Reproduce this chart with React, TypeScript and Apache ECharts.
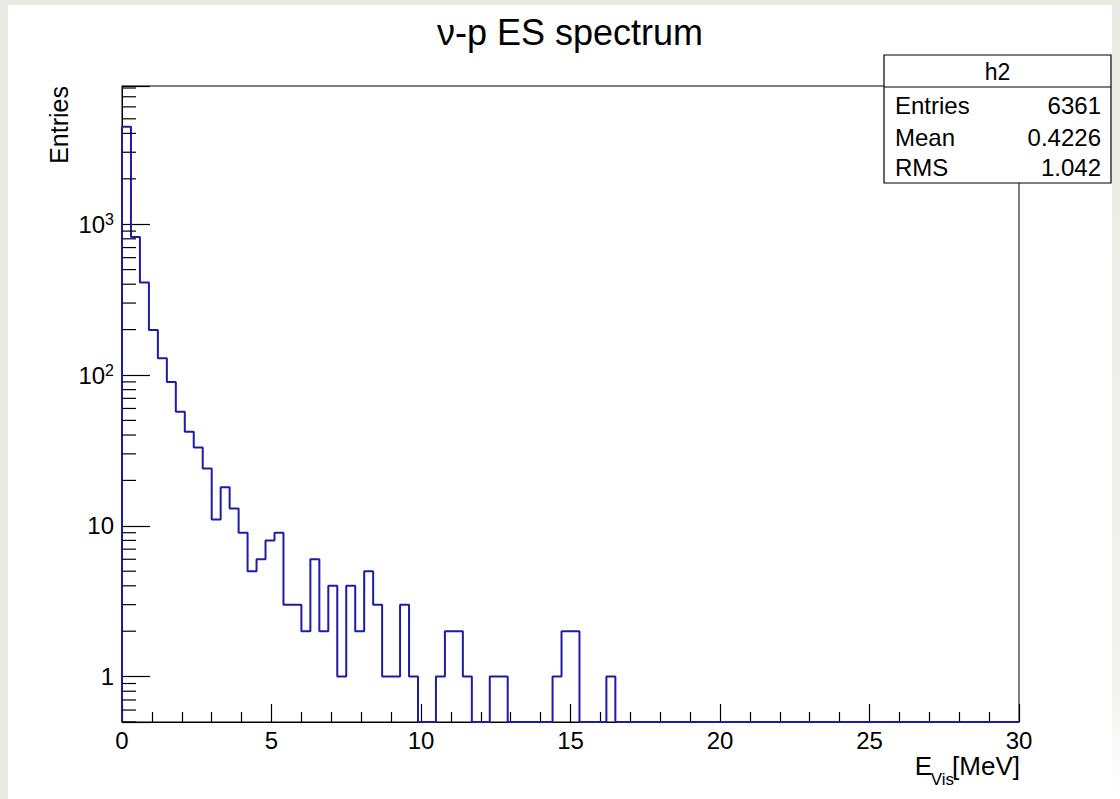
import React, { useEffect, useRef } from "react";
import * as echarts from "echarts";

// ---- data ----
const BIN_WIDTH = 0.3; // MeV, 100 bins over 0..30
const X_MIN = 0;
const X_MAX = 30;
const Y_MIN = 0.5;
const Y_MAX = 8250;

const counts: number[] = [
  4421, 822, 410, 199, 129, 90, 57, 42, 33, 24,
  11, 18, 13, 9, 5, 6, 8, 9, 3, 3,
  2, 6, 2, 4, 1, 4, 2, 5, 3, 1,
  1, 3, 1, 0, 0, 1, 2, 2, 1, 0,
  0, 1, 1, 0, 0, 0, 0, 0, 1, 2,
  2, 0, 0, 0, 1, 0, 0, 0, 0, 0,
  0, 0, 0, 0, 0, 0, 0, 0, 0, 0,
  0, 0, 0, 0, 0, 0, 0, 0, 0, 0,
  0, 0, 0, 0, 0, 0, 0, 0, 0, 0,
  0, 0, 0, 0, 0, 0, 0, 0, 0, 0,
];

const TITLE = "\u03bd-p ES spectrum";
const STATS_NAME = "h2";
const statLabels = ["Entries", "Mean", "RMS"];
const statValues = ["6361", "0.4226", "1.042"];
const X_TITLE_MAIN = "E";
const X_TITLE_SUB = "Vis";
const X_TITLE_UNIT = "[MeV]";
const Y_TITLE = "Entries";

const FONT = "'Liberation Sans', Arial, Helvetica, sans-serif";

export default function App() {
  const ref = useRef<HTMLDivElement>(null);

  useEffect(() => {
    if (!ref.current) return;
    const chart = echarts.init(ref.current, undefined, { renderer: "svg" });

    const stepData: number[][] = [[X_MIN, Y_MIN]];
    counts.forEach((c, i) => {
      stepData.push([+(i * BIN_WIDTH).toFixed(3), c > 0 ? c : Y_MIN]);
    });
    const last = counts[counts.length - 1];
    stepData.push([X_MAX, last > 0 ? last : Y_MIN]);

    const minorY: number[][] = [];
    for (let k = -1; k <= 3; k++) {
      for (let m = 2; m <= 9; m++) {
        const v = m * Math.pow(10, k);
        if (v >= Y_MIN && v <= Y_MAX) minorY.push([0, v]);
      }
    }

    const boxL = 884, boxR = 1111, boxT = 55, boxB = 183, boxH = 87;
    const rowY = [105.5, 137, 167];

    const option: any = {
      animation: false,
      grid: {
        left: 122,
        right: 101,
        top: 86,
        bottom: 77,
        show: true,
        borderColor: "#000",
        borderWidth: 1,
        backgroundColor: "transparent",
      },
      xAxis: {
        type: "value",
        min: X_MIN,
        max: X_MAX,
        interval: 5,
        axisLine: { show: true, lineStyle: { color: "#000", width: 1 } },
        axisTick: { show: true, inside: true, length: 18, lineStyle: { color: "#000", width: 1.2 } },
        minorTick: { show: true, splitNumber: 5, length: 10, lineStyle: { color: "#000", width: 1.2 } },
        splitLine: { show: false },
        axisLabel: {
          color: "#000",
          fontSize: 24,
          fontFamily: FONT,
          margin: 6,
          lineHeight: 24,
        },
      },
      yAxis: {
        type: "log",
        logBase: 10,
        min: Y_MIN,
        max: Y_MAX,
        axisLine: { show: true, lineStyle: { color: "#000", width: 1 } },
        axisTick: { show: true, inside: true, length: 28, lineStyle: { color: "#000", width: 1.2 } },
        splitLine: { show: false },
        axisLabel: {
          color: "#000",
          fontSize: 24,
          fontFamily: FONT,
          margin: 8,
          lineHeight: 26,
          formatter: (v: number) => {
            const e = Math.log10(v);
            const r = Math.round(e);
            if (Math.abs(e - r) > 1e-6) return "";
            if (r === 0) return "1";
            if (r === 1) return "10";
            return "10{sup|" + r + "}";
          },
          rich: {
            sup: { fontSize: 16, lineHeight: 16, verticalAlign: "top", fontFamily: FONT, color: "#000" },
          },
        },
      },
      series: [
        {
          type: "line",
          data: stepData,
          step: "end",
          showSymbol: false,
          symbol: "none",
          lineStyle: { color: "#1c1ca6", width: 2 },
          silent: true,
          z: 3,
        },
        {
          type: "custom",
          data: minorY,
          silent: true,
          clip: false,
          z: 4,
          renderItem: (_p: any, api: any) => {
            const pt = api.coord([api.value(0), api.value(1)]);
            return {
              type: "line",
              shape: { x1: pt[0], y1: pt[1], x2: pt[0] + 14, y2: pt[1] },
              style: { stroke: "#000", lineWidth: 1.2 },
            };
          },
        },
      ],
      graphic: [
        { type: "rect", z: -10, silent: true, shape: { x: 0, y: 0, width: 8, height: 799 }, style: { fill: "#eaeae2" } },
        { type: "rect", z: -10, silent: true, shape: { x: 0, y: 0, width: 1120, height: 5 }, style: { fill: "#eaeae2" } },
        {
          type: "rect",
          z: -10,
          silent: true,
          shape: { x: 1112, y: 0, width: 8, height: 799 },
          style: {
            fill: new echarts.graphic.LinearGradient(0, 0, 0, 1, [
              { offset: 0, color: "#eaeae2" },
              { offset: 0.85, color: "#f2f2ee" },
              { offset: 1, color: "#ffffff" },
            ]),
          },
        },
        {
          type: "text",
          z: 50,
          x: 570,
          y: 32,
          style: {
            text: TITLE,
            fill: "#000",
            fontSize: 36,
            fontFamily: FONT,
            textAlign: "center",
            textVerticalAlign: "middle",
          },
        },
        {
          type: "text",
          z: 50,
          x: 59,
          y: 86,
          rotation: Math.PI / 2,
          style: {
            text: Y_TITLE,
            fill: "#000",
            fontSize: 25,
            fontFamily: FONT,
            textAlign: "right",
            textVerticalAlign: "middle",
          },
        },
        // x-axis title: E_Vis[MeV], right-aligned at the axis end
        {
          type: "text",
          z: 50,
          x: 1020,
          y: 766,
          style: {
            text: X_TITLE_UNIT,
            fill: "#000",
            fontSize: 26,
            fontFamily: FONT,
            textAlign: "right",
            textVerticalAlign: "middle",
          },
        },
        {
          type: "text",
          z: 50,
          x: 954,
          y: 779,
          style: {
            text: X_TITLE_SUB,
            fill: "#000",
            fontSize: 17,
            fontFamily: FONT,
            textAlign: "right",
            textVerticalAlign: "middle",
          },
        },
        {
          type: "text",
          z: 50,
          x: 932,
          y: 766,
          style: {
            text: X_TITLE_MAIN,
            fill: "#000",
            fontSize: 26,
            fontFamily: FONT,
            textAlign: "right",
            textVerticalAlign: "middle",
          },
        },
        {
          type: "group",
          z: 100,
          children: [
            {
              type: "rect",
              z: 100,
              shape: { x: boxL, y: boxT, width: boxR - boxL, height: boxB - boxT },
              style: { fill: "#fff", stroke: "#000", lineWidth: 1.2 },
            },
            {
              type: "line",
              z: 101,
              shape: { x1: boxL, y1: boxH, x2: boxR, y2: boxH },
              style: { stroke: "#000", lineWidth: 1.2 },
            },
            {
              type: "text",
              z: 102,
              x: (boxL + boxR) / 2,
              y: 72,
              style: {
                text: STATS_NAME,
                fill: "#000",
                fontSize: 23,
                fontFamily: FONT,
                textAlign: "center",
                textVerticalAlign: "middle",
              },
            },
            ...statLabels.map((t, i) => ({
              type: "text",
              z: 102,
              x: 895,
              y: rowY[i],
              style: {
                text: t,
                fill: "#000",
                fontSize: 24,
                fontFamily: FONT,
                textAlign: "left",
                textVerticalAlign: "middle",
              },
            })),
            ...statValues.map((t, i) => ({
              type: "text",
              z: 102,
              x: 1101,
              y: rowY[i],
              style: {
                text: t,
                fill: "#000",
                fontSize: 24,
                fontFamily: FONT,
                textAlign: "right",
                textVerticalAlign: "middle",
              },
            })),
          ],
        },
      ],
    };

    chart.setOption(option);
    return () => chart.dispose();
  }, []);

  return (
    <div
      style={{
        position: "fixed",
        left: 0,
        top: 0,
        width: 1120,
        height: 799,
        background: "#fff",
      }}
    >
      <div ref={ref} style={{ width: 1120, height: 799 }} />
    </div>
  );
}
